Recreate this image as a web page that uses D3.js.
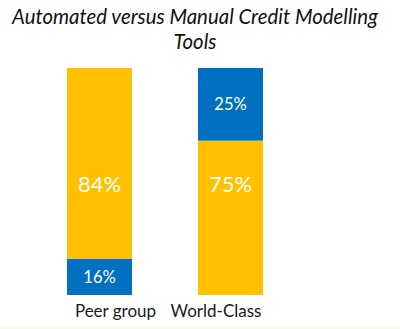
<!DOCTYPE html>
<html>
<head>
<meta charset="utf-8">
<script src="https://cdn.jsdelivr.net/npm/d3@7"></script>
<style>
  html, body { margin: 0; padding: 0; background: #ffffff; }
  svg { display: block; }
</style>
</head>
<body>
<svg id="chart" width="400" height="329"></svg>
<script>
// ---- data ----
const categories = ["Peer group", "World-Class"];
const seriesNames = ["Manual", "Automated"];
// drawn segment sizes
const manualValues = [84, 68];
const automatedValues = [16, 32];
// data labels as printed
const manualLabels = ["84%", "75%"];
const automatedLabels = ["16%", "25%"];
// stacking order, bottom to top, per category
const stackOrder = [["Automated", "Manual"], ["Manual", "Automated"]];
const titleLines = ["Automated versus Manual Credit Modelling", "Tools"];

const colors = { Manual: "#FFC000", Automated: "#0070C0" };
const labelSize = { Manual: 22, Automated: 16.5 };
// manual labels sit at a fixed level on the value scale in the reference
const manualLabelLevel = 49;
// category labels are nudged toward the middle in the reference
const catLabelShift = [16, -14.5];

const svg = d3.select("#chart");
const W = 400, H = 329;

const x = d3.scaleBand().domain(categories).range([67, 263])
  .paddingInner(66 / 131).paddingOuter(0);
const y = d3.scaleLinear().domain([0, 100]).range([295, 68]);

// faint bottom line
svg.append("rect").attr("x", 0).attr("y", H - 1.5).attr("width", W).attr("height", 1.5)
  .attr("fill", "#fbf5e3");

// build segments
const segs = [];
categories.forEach((c, i) => {
  let base = 0;
  stackOrder[i].forEach(s => {
    const v = s === "Manual" ? manualValues[i] : automatedValues[i];
    const lab = s === "Manual" ? manualLabels[i] : automatedLabels[i];
    segs.push({ cat: c, series: s, y0: base, y1: base + v, label: lab });
    base += v;
  });
});

svg.append("g").selectAll("rect").data(segs).join("rect")
  .attr("x", d => x(d.cat))
  .attr("width", x.bandwidth())
  .attr("y", d => y(d.y1))
  .attr("height", d => y(d.y0) - y(d.y1))
  .attr("fill", d => colors[d.series]);

svg.append("g").selectAll("text").data(segs).join("text")
  .attr("x", d => x(d.cat) + x.bandwidth() / 2)
  .attr("y", d => d.series === "Manual" ? y(manualLabelLevel) : (y(d.y0) + y(d.y1)) / 2)
  .attr("dy", "0.36em")
  .attr("text-anchor", "middle")
  .attr("fill", "#ffffff")
  .style("font-family", "Lato, 'Open Sans', sans-serif")
  .style("font-size", d => labelSize[d.series] + "px")
  .text(d => d.label);

// category axis labels
svg.append("g").selectAll("text").data(categories).join("text")
  .attr("x", (d, i) => x(d) + x.bandwidth() / 2 + catLabelShift[i])
  .attr("y", 317)
  .attr("text-anchor", "middle")
  .attr("fill", "#1a1a1a")
  .style("font-family", "Lato, 'Open Sans', sans-serif")
  .style("font-size", "17px")
  .text(d => d);

// title
svg.append("g").selectAll("text").data(titleLines).join("text")
  .attr("x", 195)
  .attr("y", (d, i) => 24 + i * 25)
  .attr("text-anchor", "middle")
  .attr("fill", "#111111")
  .style("font-family", "Lato, 'Open Sans', sans-serif")
  .style("font-style", "italic")
  .style("font-size", "20.4px")
  .text(d => d);
</script>
</body>
</html>
